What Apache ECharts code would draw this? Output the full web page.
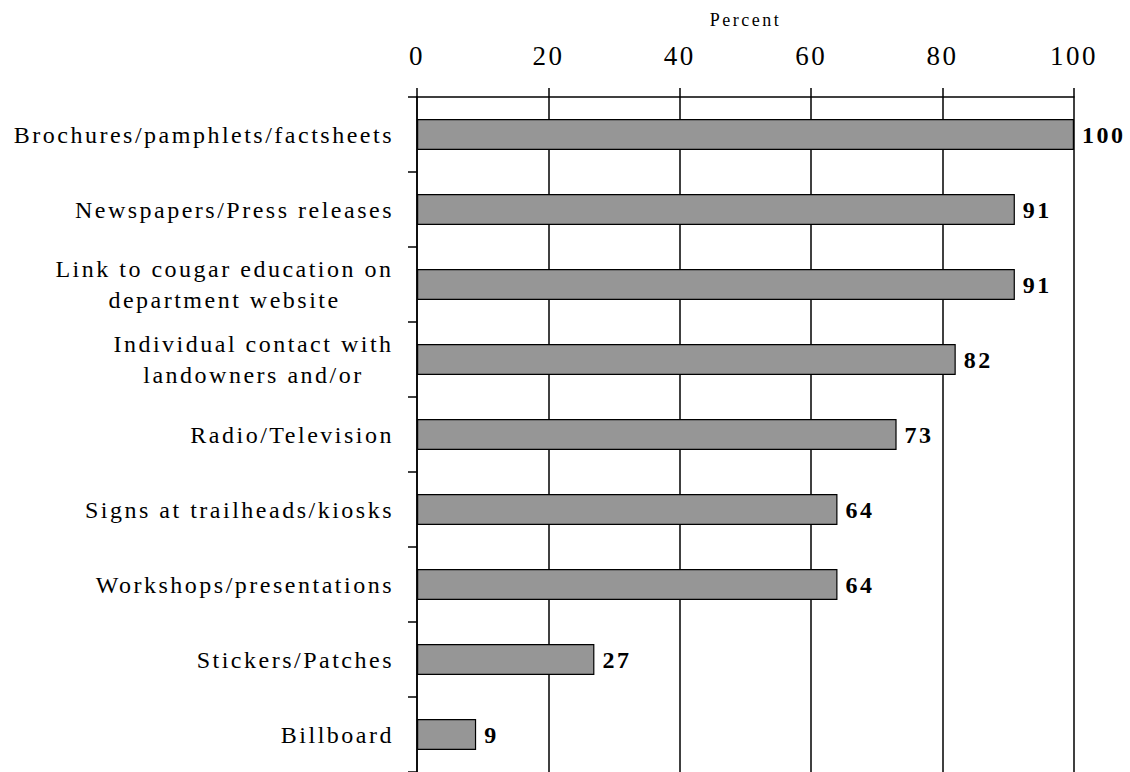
<!DOCTYPE html>
<html>
<head>
<meta charset="utf-8">
<script src="https://cdn.jsdelivr.net/npm/echarts@6/dist/echarts.min.js"></script>
<style>
  html, body { margin: 0; padding: 0; background: #fff; }
  #chart { width: 1130px; height: 772px; }
  /* 原图文字字距较宽 */
  #chart text { letter-spacing: 2.5px; }
</style>
</head>
<body>
<div id="chart"></div>
<script>
// 数据
var categories = [
    ['Brochures/pamphlets/factsheets'],
    ['Newspapers/Press releases'],
    ['Link to cougar education on', 'department website'],
    ['Individual contact with', 'landowners and/or'],
    ['Radio/Television'],
    ['Signs at trailheads/kiosks'],
    ['Workshops/presentations'],
    ['Stickers/Patches'],
    ['Billboard']
];
var values = [100, 91, 91, 82, 73, 64, 64, 27, 9];
var xTicks = [0, 20, 40, 60, 80, 100];

var FONT = '"Liberation Serif", "DejaVu Serif", serif';
var LABEL_SIZE = 24;
var SPACING = 2.5;

// 计算多行标签宽度（含字距），使每行居中
var ctx = document.createElement('canvas').getContext('2d');
ctx.font = LABEL_SIZE + 'px ' + FONT;
ctx.letterSpacing = SPACING + 'px';
function lineWidth(s) { return Math.ceil(ctx.measureText(s).width); }

var catNames = categories.map(function(c) { return c.join('\n'); });
var rich = {};
categories.forEach(function(c, i) {
    if (c.length > 1) {
        var w = Math.max.apply(null, c.map(lineWidth));
        rich['m' + i] = {
            width: w, align: 'center',
            fontFamily: FONT, fontSize: LABEL_SIZE, color: '#000', lineHeight: 31
        };
    }
});

var chart = echarts.init(document.getElementById('chart'), null, { renderer: 'svg' });
var option = {
    animation: false,
    grid: {
        left: 417, right: 56, top: 97, bottom: 0,
        containLabel: false,
        outerBoundsMode: 'none'
    },
    xAxis: {
        type: 'value',
        position: 'top',
        min: 0, max: 100, interval: 20,
        name: 'Percent',
        nameLocation: 'middle',
        nameGap: 68,
        nameTextStyle: { fontFamily: FONT, fontSize: 18, color: '#000' },
        axisLine: { show: true, lineStyle: { color: '#000', width: 1.5 } },
        axisTick: { show: true, length: 9, lineStyle: { color: '#000', width: 1.5 } },
        axisLabel: {
            margin: 28,
            fontFamily: FONT, fontSize: 27, color: '#000',
            formatter: function(v) { return xTicks.indexOf(v) >= 0 ? String(v) : ''; }
        },
        splitLine: { show: true, lineStyle: { color: '#000', width: 1.5 } }
    },
    yAxis: {
        type: 'category',
        inverse: true,
        data: catNames,
        axisLine: { show: true, lineStyle: { color: '#000', width: 1.5 } },
        axisTick: { show: true, length: 9, lineStyle: { color: '#000', width: 1.5 } },
        axisLabel: {
            interval: 0,
            margin: 23,
            fontFamily: FONT, fontSize: LABEL_SIZE, color: '#000', lineHeight: 31,
            rich: rich,
            formatter: function(v, idx) {
                var c = categories[idx];
                if (c.length > 1) {
                    return c.map(function(l) { return '{m' + idx + '|' + l + '}'; }).join('\n');
                }
                return v;
            }
        }
    },
    series: [{
        type: 'bar',
        data: values,
        barWidth: 31,
        itemStyle: { color: '#969696', borderColor: '#000', borderWidth: 1.2 },
        label: {
            show: true,
            position: 'right',
            distance: 8,
            fontFamily: FONT, fontSize: 24, fontWeight: 'bold', color: '#000'
        }
    }]
};
chart.setOption(option);
</script>
</body>
</html>
